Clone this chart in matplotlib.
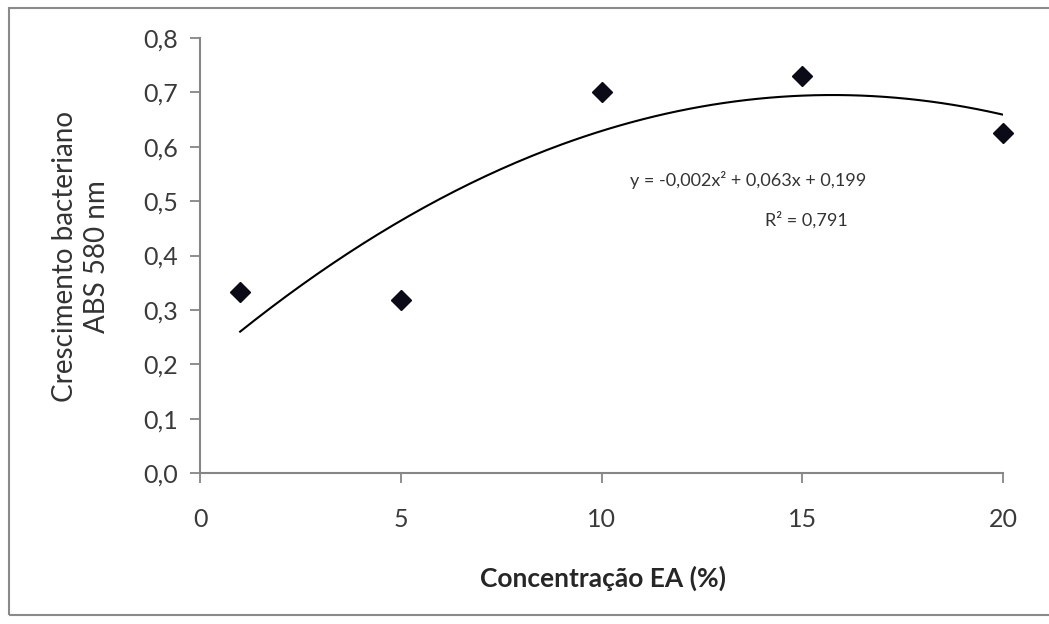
import matplotlib
matplotlib.use("Agg")
import matplotlib.pyplot as plt
from matplotlib.patches import Rectangle
import numpy as np

plt.rcParams['font.family'] = ['Lato', 'DejaVu Sans']

# data
concentracao = [1, 5, 10, 15, 20]
absorbancia = [0.333, 0.318, 0.700, 0.730, 0.625]

# trendline coefficients as printed on the chart (x^2, x, 1)
coef = [-0.002, 0.063, 0.199]
r2 = 0.791

x_ticks = [0, 5, 10, 15, 20]
y_ticks = [0.0, 0.1, 0.2, 0.3, 0.4, 0.5, 0.6, 0.7, 0.8]

W, H = 1049, 624
fig = plt.figure(figsize=(W / 100, H / 100), dpi=100)
ax = fig.add_axes([200 / W, 1 - 473 / H, (1003 - 200) / W, (473 - 38) / H])

# outer chart frame (right edge falls outside the image)
fig.add_artist(Rectangle((9 / W, 1 - 615 / H), 1.2, (615 - 8) / H,
                         transform=fig.transFigure, fill=False,
                         edgecolor='#8a8a8a', lw=1.5))

xs = np.linspace(concentracao[0], concentracao[-1], 200)
ax.plot(xs, np.polyval(coef, xs), color='black', lw=1.5, zorder=2)
ax.plot(concentracao, absorbancia, linestyle='none', marker='D',
        markersize=10, color='#0b0b18', zorder=3, clip_on=False)

ax.set_xlim(0, 20)
ax.set_ylim(0, 0.8)
ax.set_xticks(x_ticks)
ax.set_yticks(y_ticks)
ax.set_xticklabels([str(v) for v in x_ticks])
ax.set_yticklabels([f"{v:.1f}".replace('.', ',') for v in y_ticks])

for s in ['top', 'right']:
    ax.spines[s].set_visible(False)
for s in ['left', 'bottom']:
    ax.spines[s].set_color('#868686')
    ax.spines[s].set_linewidth(1.5)
ax.tick_params(axis='both', direction='out', length=7, width=1.3,
               color='#868686', labelsize=18, labelcolor='#3a3a3a')
ax.tick_params(axis='x', pad=18)
ax.tick_params(axis='y', pad=9)

fig.text(603 / W, 1 - 578 / H, "Concentração EA (%)", fontsize=19,
         fontweight='bold', color='#262626', ha='center', va='center')
fig.text(81 / W, 1 - 257 / H, "Crescimento bacteriano\nABS 580 nm",
         fontsize=20, color='#333333', rotation=90, ha='center',
         va='center', multialignment='center', linespacing=1.3)

eq = "y = {:.3f}x² + {:.3f}x + {:.3f}".format(*coef).replace('.', ',')
ax.text(0.683, 0.674, eq, transform=ax.transAxes, fontsize=13,
        color='#333333', ha='center', va='center')
ax.text(0.755, 0.582, "R² = {:.3f}".format(r2).replace('.', ','),
        transform=ax.transAxes, fontsize=13, color='#333333',
        ha='center', va='center')

fig.savefig("out.png", dpi=100)
